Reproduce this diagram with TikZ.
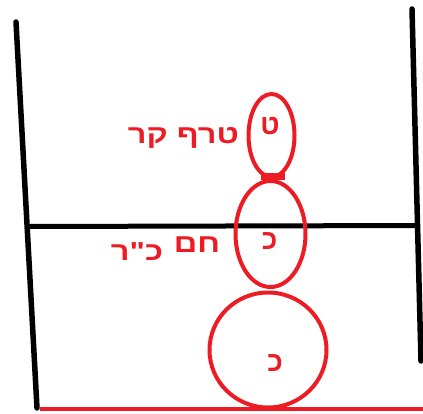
\documentclass[tikz,border=0pt]{standalone}
\usepackage{fontspec}
\usepackage{graphicx}
\usetikzlibrary{shapes.geometric}
\TeXXeTstate=1
\newfontfamily\hebfont[Script=Hebrew]{Liberation Sans}
\definecolor{pred}{HTML}{ED1C24}
\newcommand{\widetxt}[1]{\scalebox{1.25}[1]{\beginR #1\endR}}
\begin{document}
\begin{tikzpicture}[x=1pt,y=-1pt,
  wall/.style={line width=5.5pt,line cap=round,black},
  ball/.style={draw=pred,line width=4pt,ellipse,inner sep=0pt},
  lbl/.style={text=pred,font=\hebfont\bfseries\fontsize{26}{26}\selectfont,inner sep=0pt,anchor=base},
  inner/.style={text=pred,font=\hebfont\bfseries\fontsize{28}{28}\selectfont,inner sep=0pt,anchor=base}]
\useasboundingbox (0,0) rectangle (423,413);
\coordinate (lt) at (16,22);
\coordinate (lb) at (37,408);
\coordinate (rt) at (412,9);
\coordinate (rb) at (421,361);
\coordinate (sl) at (28,226.5);
\coordinate (sr) at (419,225.5);
\coordinate (fl) at (40,408.5);
\coordinate (fr) at (423,408.5);
\draw[wall] (lt) -- (lb);
\draw[wall] (rt) -- (rb);
\draw[line width=5pt,black] (sl) -- (sr);
\draw[line width=4pt,pred] (fl) -- (fr);
\node[ball,minimum width=46,minimum height=83] (top) at (271.5,135.5) {};
\node[ball,minimum width=70,minimum height=106] (mid) at (270.5,234) {};
\node[ball,minimum width=117,minimum height=115] (bot) at (268,350) {};
\fill[pred] (261,173) rectangle (285,180);
\node[inner] (t1) at (270,134) {\beginR ט\endR};
\node[lbl] (t2) at (183.5,143) {\widetxt{טרף קר}};
\node[lbl] (t3) at (197,252) {\widetxt{חם}};
\node[lbl] (t4) at (137,260) {\widetxt{כ"ר}};
\node[inner] (t5) at (269.5,249) {\beginR כ\endR};
\node[inner] (t6) at (275,371) {\beginR כ\endR};
\end{tikzpicture}
\end{document}
